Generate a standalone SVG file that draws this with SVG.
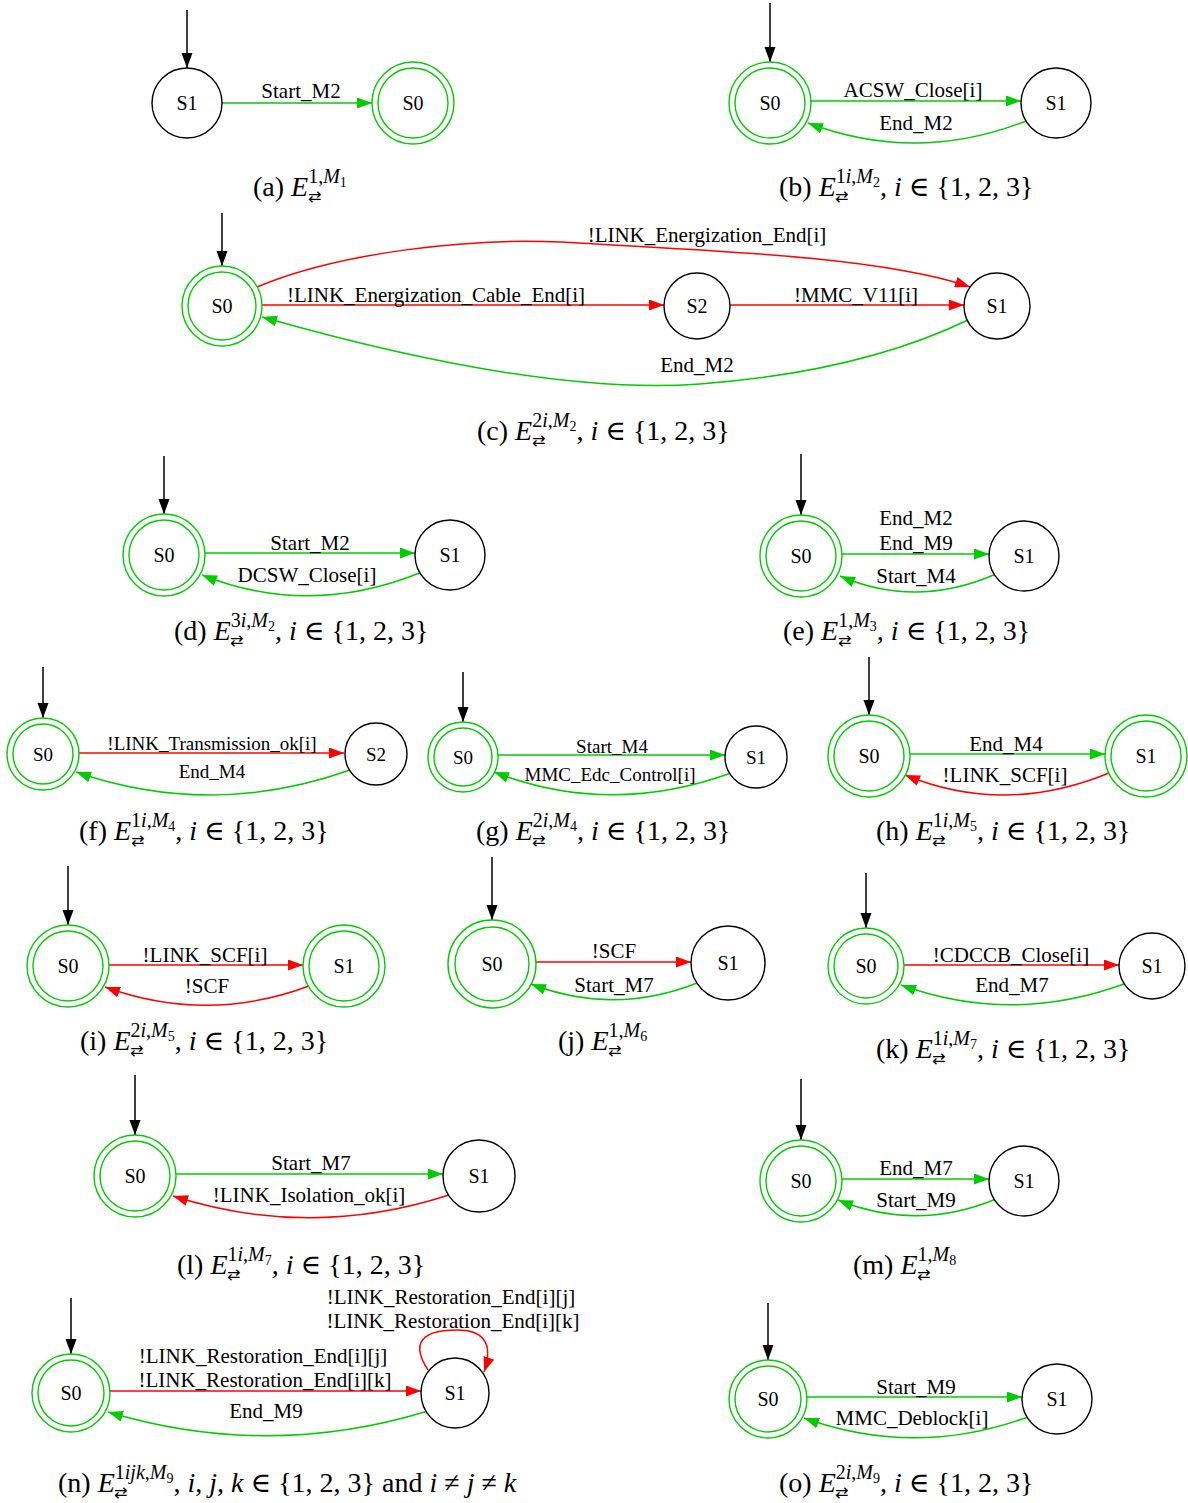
<svg xmlns="http://www.w3.org/2000/svg" width="1188" height="1503" viewBox="0 0 1188 1503">
<style>
text{font-family:"Liberation Serif","DejaVu Serif",serif;fill:#000}
.n{font-size:20px;text-anchor:middle}
.l{font-size:21px;text-anchor:middle}
.s{font-size:19px}
.cap{font-size:28px}
.sup{font-size:20px}
.sub{font-size:14px}
.it{font-style:italic}
.arr{font-family:"DejaVu Sans",sans-serif;font-size:16px}
.bk{fill:#fff;stroke:#000;stroke-width:1.4}
.gn{fill:#fff;stroke:#00cc00;stroke-width:1.4}
.e{fill:none;stroke-width:1.5}
.eg{stroke:#00cc00}
.er{stroke:#ff0000}
.ek{stroke:#000}
</style>
<defs>
<marker id="ak" markerUnits="userSpaceOnUse" markerWidth="16" markerHeight="12" refX="15" refY="5.5" orient="auto"><path d="M0,0 L15,5.5 L0,11 z" fill="#000"/></marker>
<marker id="ag" markerUnits="userSpaceOnUse" markerWidth="16" markerHeight="12" refX="15" refY="5.5" orient="auto"><path d="M0,0 L15,5.5 L0,11 z" fill="#00cc00"/></marker>
<marker id="ar" markerUnits="userSpaceOnUse" markerWidth="16" markerHeight="12" refX="15" refY="5.5" orient="auto"><path d="M0,0 L15,5.5 L0,11 z" fill="#ff0000"/></marker>
</defs>

<g id="connectors">
<path class="e ek" d="M187,10 L187,68" marker-end="url(#ak)"/>
<path class="e eg" d="M222,103 L372,103" marker-end="url(#ag)"/>
<path class="e ek" d="M770,3 L770,62" marker-end="url(#ak)"/>
<path class="e eg" d="M811,101 L1021,101" marker-end="url(#ag)"/>
<path class="e eg" d="M1026,121 Q917,164 808,123" marker-end="url(#ag)"/>
<path class="e ek" d="M222,213 L222,266" marker-end="url(#ak)"/>
<path class="e er" d="M262,305 L664,305" marker-end="url(#ar)"/>
<path class="e er" d="M730,305 L964,305" marker-end="url(#ar)"/>
<path class="e er" d="M257,287 C340,252 470,238 560,242 C700,250 880,256 970,287" marker-end="url(#ar)"/>
<path class="e eg" d="M968,320 Q860,372 700,384 Q540,396 262,317" marker-end="url(#ag)"/>
<path class="e ek" d="M164,456 L164,514" marker-end="url(#ak)"/>
<path class="e eg" d="M205,553 L415,553" marker-end="url(#ag)"/>
<path class="e eg" d="M422,572 Q310,618 202,575" marker-end="url(#ag)"/>
<path class="e ek" d="M801,454 L801,515" marker-end="url(#ak)"/>
<path class="e eg" d="M842,554 L989,554" marker-end="url(#ag)"/>
<path class="e eg" d="M996,574 Q916,609 840,576" marker-end="url(#ag)"/>
<path class="e ek" d="M43,667 L43,718" marker-end="url(#ak)"/>
<path class="e er" d="M79,753 L344,753" marker-end="url(#ar)"/>
<path class="e eg" d="M350,770 Q212,819 76,772" marker-end="url(#ag)"/>
<path class="e ek" d="M463,672 L463,722" marker-end="url(#ak)"/>
<path class="e eg" d="M498,755 L725,755" marker-end="url(#ag)"/>
<path class="e eg" d="M731,773 Q610,817 494,772" marker-end="url(#ag)"/>
<path class="e ek" d="M869,657 L869,715" marker-end="url(#ak)"/>
<path class="e eg" d="M910,754 L1105,754" marker-end="url(#ag)"/>
<path class="e er" d="M1109,773 Q1005,816 905,775" marker-end="url(#ar)"/>
<path class="e ek" d="M68,866 L68,925" marker-end="url(#ak)"/>
<path class="e er" d="M109,965 L303,965" marker-end="url(#ar)"/>
<path class="e er" d="M309,986 Q207,1024 105,987" marker-end="url(#ar)"/>
<path class="e ek" d="M492,857 L492,920" marker-end="url(#ak)"/>
<path class="e er" d="M536,962 L691,962" marker-end="url(#ar)"/>
<path class="e eg" d="M697,983 Q614,1016 531,984" marker-end="url(#ag)"/>
<path class="e ek" d="M866,873 L866,928" marker-end="url(#ak)"/>
<path class="e er" d="M904,965 L1119,965" marker-end="url(#ar)"/>
<path class="e eg" d="M1124,984 Q1012,1025 901,985" marker-end="url(#ag)"/>
<path class="e ek" d="M135,1075 L135,1135" marker-end="url(#ak)"/>
<path class="e eg" d="M176,1174 L443,1174" marker-end="url(#ag)"/>
<path class="e er" d="M449,1195 Q310,1240 173,1196" marker-end="url(#ar)"/>
<path class="e ek" d="M801,1079 L801,1140" marker-end="url(#ak)"/>
<path class="e eg" d="M842,1179 L989,1179" marker-end="url(#ag)"/>
<path class="e eg" d="M996,1199 Q917,1232 838,1200" marker-end="url(#ag)"/>
<path class="e ek" d="M71,1298 L71,1354" marker-end="url(#ak)"/>
<path class="e er" d="M110,1391 L421,1391" marker-end="url(#ar)"/>
<path class="e er" d="M428,1370 C405,1335 435,1330 457,1330 C480,1330 495,1340 484,1372" marker-end="url(#ar)"/>
<path class="e eg" d="M428,1411 Q268,1460 108,1412" marker-end="url(#ag)"/>
<path class="e ek" d="M768,1303 L768,1360" marker-end="url(#ak)"/>
<path class="e eg" d="M807,1397 L1022,1397" marker-end="url(#ag)"/>
<path class="e eg" d="M1028,1417 Q915,1458 804,1418" marker-end="url(#ag)"/>
</g>

<g id="edge-labels">
<text class="l" x="301" y="98">Start_M2</text>
<text class="l" x="913" y="97">ACSW_Close[i]</text>
<text class="l" x="916" y="130">End_M2</text>
<text class="l" x="436" y="302">!LINK_Energization_Cable_End[i]</text>
<text class="l" x="856" y="302">!MMC_V11[i]</text>
<text class="l" x="707" y="242">!LINK_Energization_End[i]</text>
<text class="l" x="697" y="372">End_M2</text>
<text class="l" x="310" y="550">Start_M2</text>
<text class="l" x="307" y="582">DCSW_Close[i]</text>
<text class="l" x="916" y="525">End_M2</text>
<text class="l" x="916" y="550">End_M9</text>
<text class="l" x="916" y="583">Start_M4</text>
<text class="l s" x="212" y="750">!LINK_Transmission_ok[i]</text>
<text class="l s" x="212" y="778">End_M4</text>
<text class="l s" x="612" y="753">Start_M4</text>
<text class="l s" x="610" y="781">MMC_Edc_Control[i]</text>
<text class="l" x="1006" y="751">End_M4</text>
<text class="l" x="1005" y="782">!LINK_SCF[i]</text>
<text class="l" x="205" y="962">!LINK_SCF[i]</text>
<text class="l" x="207" y="993">!SCF</text>
<text class="l" x="614" y="958">!SCF</text>
<text class="l" x="614" y="992">Start_M7</text>
<text class="l" x="1011" y="962">!CDCCB_Close[i]</text>
<text class="l" x="1012" y="992">End_M7</text>
<text class="l" x="311" y="1170">Start_M7</text>
<text class="l" x="309" y="1202">!LINK_Isolation_ok[i]</text>
<text class="l" x="916" y="1175">End_M7</text>
<text class="l" x="916" y="1207">Start_M9</text>
<text class="l" x="263" y="1363">!LINK_Restoration_End[i][j]</text>
<text class="l" x="265" y="1387">!LINK_Restoration_End[i][k]</text>
<text class="l" x="451" y="1304">!LINK_Restoration_End[i][j]</text>
<text class="l" x="453" y="1328">!LINK_Restoration_End[i][k]</text>
<text class="l" x="266" y="1418">End_M9</text>
<text class="l" x="916" y="1394">Start_M9</text>
<text class="l" x="912" y="1425">MMC_Deblock[i]</text>
</g>

<g id="a-S1"><circle class="bk" cx="187" cy="103" r="35"/><text class="n" x="187" y="110">S1</text></g>
<g id="a-S0"><circle class="gn" cx="413" cy="103" r="41"/><circle class="gn" cx="413" cy="103" r="35"/><text class="n" x="413" y="110">S0</text></g>
<g id="b-S0"><circle class="gn" cx="770" cy="103" r="41"/><circle class="gn" cx="770" cy="103" r="35"/><text class="n" x="770" y="110">S0</text></g>
<g id="b-S1"><circle class="bk" cx="1056" cy="103" r="35"/><text class="n" x="1056" y="110">S1</text></g>
<g id="c-S0"><circle class="gn" cx="222" cy="306" r="40"/><circle class="gn" cx="222" cy="306" r="34"/><text class="n" x="222" y="313">S0</text></g>
<g id="c-S2"><circle class="bk" cx="697" cy="306" r="33"/><text class="n" x="697" y="313">S2</text></g>
<g id="c-S1"><circle class="bk" cx="997" cy="306" r="33"/><text class="n" x="997" y="313">S1</text></g>
<g id="d-S0"><circle class="gn" cx="164" cy="555" r="41"/><circle class="gn" cx="164" cy="555" r="35"/><text class="n" x="164" y="562">S0</text></g>
<g id="d-S1"><circle class="bk" cx="450" cy="555" r="35"/><text class="n" x="450" y="562">S1</text></g>
<g id="e-S0"><circle class="gn" cx="801" cy="556" r="41"/><circle class="gn" cx="801" cy="556" r="35"/><text class="n" x="801" y="563">S0</text></g>
<g id="e-S1"><circle class="bk" cx="1024" cy="556" r="35"/><text class="n" x="1024" y="563">S1</text></g>
<g id="f-S0"><circle class="gn" cx="43" cy="754" r="36"/><circle class="gn" cx="43" cy="754" r="30"/><text class="n s" x="43" y="761">S0</text></g>
<g id="f-S2"><circle class="bk" cx="376" cy="754" r="31"/><text class="n s" x="376" y="761">S2</text></g>
<g id="g-S0"><circle class="gn" cx="463" cy="757" r="35"/><circle class="gn" cx="463" cy="757" r="29"/><text class="n s" x="463" y="764">S0</text></g>
<g id="g-S1"><circle class="bk" cx="756" cy="757" r="31"/><text class="n s" x="756" y="764">S1</text></g>
<g id="h-S0"><circle class="gn" cx="869" cy="756" r="41"/><circle class="gn" cx="869" cy="756" r="35"/><text class="n" x="869" y="763">S0</text></g>
<g id="h-S1"><circle class="gn" cx="1146" cy="756" r="41"/><circle class="gn" cx="1146" cy="756" r="35"/><text class="n" x="1146" y="763">S1</text></g>
<g id="i-S0"><circle class="gn" cx="68" cy="966" r="41"/><circle class="gn" cx="68" cy="966" r="35"/><text class="n" x="68" y="973">S0</text></g>
<g id="i-S1"><circle class="gn" cx="344" cy="966" r="41"/><circle class="gn" cx="344" cy="966" r="35"/><text class="n" x="344" y="973">S1</text></g>
<g id="j-S0"><circle class="gn" cx="492" cy="964" r="44"/><circle class="gn" cx="492" cy="964" r="37"/><text class="n" x="492" y="971">S0</text></g>
<g id="j-S1"><circle class="bk" cx="728" cy="963" r="37"/><text class="n" x="728" y="970">S1</text></g>
<g id="k-S0"><circle class="gn" cx="866" cy="966" r="38"/><circle class="gn" cx="866" cy="966" r="32"/><text class="n" x="866" y="973">S0</text></g>
<g id="k-S1"><circle class="bk" cx="1152" cy="966" r="33"/><text class="n" x="1152" y="973">S1</text></g>
<g id="l-S0"><circle class="gn" cx="135" cy="1176" r="41"/><circle class="gn" cx="135" cy="1176" r="35"/><text class="n" x="135" y="1183">S0</text></g>
<g id="l-S1"><circle class="bk" cx="479" cy="1176" r="36"/><text class="n" x="479" y="1183">S1</text></g>
<g id="m-S0"><circle class="gn" cx="801" cy="1181" r="41"/><circle class="gn" cx="801" cy="1181" r="35"/><text class="n" x="801" y="1188">S0</text></g>
<g id="m-S1"><circle class="bk" cx="1024" cy="1181" r="35"/><text class="n" x="1024" y="1188">S1</text></g>
<g id="n-S0"><circle class="gn" cx="71" cy="1393" r="39"/><circle class="gn" cx="71" cy="1393" r="33"/><text class="n" x="71" y="1400">S0</text></g>
<g id="n-S1"><ellipse class="bk" cx="455" cy="1393" rx="34" ry="35"/><text class="n" x="455" y="1400">S1</text></g>
<g id="o-S0"><circle class="gn" cx="768" cy="1399" r="39"/><circle class="gn" cx="768" cy="1399" r="33"/><text class="n" x="768" y="1406">S0</text></g>
<g id="o-S1"><circle class="bk" cx="1057" cy="1399" r="35"/><text class="n" x="1057" y="1406">S1</text></g>

<g id="captions">
<text class="cap" x="253" y="196">(a) <tspan class="it">E</tspan><tspan class="sup" dy="-13">1,<tspan class="it">M</tspan></tspan><tspan class="sub" dy="4">1</tspan></text>
<text class="arr" x="308" y="202">⇄</text>

<text class="cap" x="779" y="196">(b) <tspan class="it">E</tspan><tspan class="sup" dy="-13">1<tspan class="it">i</tspan>,<tspan class="it">M</tspan></tspan><tspan class="sub" dy="4">2</tspan><tspan dy="9">, <tspan class="it">i</tspan> ∈ {1, 2, 3}</tspan></text>
<text class="arr" x="835" y="202">⇄</text>

<text class="cap" x="477" y="440">(c) <tspan class="it">E</tspan><tspan class="sup" dy="-13">2<tspan class="it">i</tspan>,<tspan class="it">M</tspan></tspan><tspan class="sub" dy="4">2</tspan><tspan dy="9">, <tspan class="it">i</tspan> ∈ {1, 2, 3}</tspan></text>
<text class="arr" x="532" y="446">⇄</text>

<text class="cap" x="174" y="640">(d) <tspan class="it">E</tspan><tspan class="sup" dy="-13">3<tspan class="it">i</tspan>,<tspan class="it">M</tspan></tspan><tspan class="sub" dy="4">2</tspan><tspan dy="9">, <tspan class="it">i</tspan> ∈ {1, 2, 3}</tspan></text>
<text class="arr" x="230" y="646">⇄</text>

<text class="cap" x="783" y="640">(e) <tspan class="it">E</tspan><tspan class="sup" dy="-13">1,<tspan class="it">M</tspan></tspan><tspan class="sub" dy="4">3</tspan><tspan dy="9">, <tspan class="it">i</tspan> ∈ {1, 2, 3}</tspan></text>
<text class="arr" x="838" y="646">⇄</text>

<text class="cap" x="79" y="840">(f) <tspan class="it">E</tspan><tspan class="sup" dy="-13">1<tspan class="it">i</tspan>,<tspan class="it">M</tspan></tspan><tspan class="sub" dy="4">4</tspan><tspan dy="9">, <tspan class="it">i</tspan> ∈ {1, 2, 3}</tspan></text>
<text class="arr" x="131" y="846">⇄</text>

<text class="cap" x="476" y="840">(g) <tspan class="it">E</tspan><tspan class="sup" dy="-13">2<tspan class="it">i</tspan>,<tspan class="it">M</tspan></tspan><tspan class="sub" dy="4">4</tspan><tspan dy="9">, <tspan class="it">i</tspan> ∈ {1, 2, 3}</tspan></text>
<text class="arr" x="532" y="846">⇄</text>

<text class="cap" x="876" y="840">(h) <tspan class="it">E</tspan><tspan class="sup" dy="-13">1<tspan class="it">i</tspan>,<tspan class="it">M</tspan></tspan><tspan class="sub" dy="4">5</tspan><tspan dy="9">, <tspan class="it">i</tspan> ∈ {1, 2, 3}</tspan></text>
<text class="arr" x="932" y="846">⇄</text>

<text class="cap" x="80" y="1050">(i) <tspan class="it">E</tspan><tspan class="sup" dy="-13">2<tspan class="it">i</tspan>,<tspan class="it">M</tspan></tspan><tspan class="sub" dy="4">5</tspan><tspan dy="9">, <tspan class="it">i</tspan> ∈ {1, 2, 3}</tspan></text>
<text class="arr" x="130" y="1056">⇄</text>

<text class="cap" x="558" y="1050">(j) <tspan class="it">E</tspan><tspan class="sup" dy="-13">1,<tspan class="it">M</tspan></tspan><tspan class="sub" dy="4">6</tspan></text>
<text class="arr" x="608" y="1056">⇄</text>

<text class="cap" x="876" y="1058">(k) <tspan class="it">E</tspan><tspan class="sup" dy="-13">1<tspan class="it">i</tspan>,<tspan class="it">M</tspan></tspan><tspan class="sub" dy="4">7</tspan><tspan dy="9">, <tspan class="it">i</tspan> ∈ {1, 2, 3}</tspan></text>
<text class="arr" x="932" y="1064">⇄</text>

<text class="cap" x="177" y="1274">(l) <tspan class="it">E</tspan><tspan class="sup" dy="-13">1<tspan class="it">i</tspan>,<tspan class="it">M</tspan></tspan><tspan class="sub" dy="4">7</tspan><tspan dy="9">, <tspan class="it">i</tspan> ∈ {1, 2, 3}</tspan></text>
<text class="arr" x="227" y="1280">⇄</text>

<text class="cap" x="853" y="1274">(m) <tspan class="it">E</tspan><tspan class="sup" dy="-13">1,<tspan class="it">M</tspan></tspan><tspan class="sub" dy="4">8</tspan></text>
<text class="arr" x="917" y="1280">⇄</text>

<text class="cap" x="58" y="1492">(n) <tspan class="it">E</tspan><tspan class="sup" dy="-13">1<tspan class="it">ijk</tspan>,<tspan class="it">M</tspan></tspan><tspan class="sub" dy="4">9</tspan><tspan dy="9">, <tspan class="it">i</tspan>, <tspan class="it">j</tspan>, <tspan class="it">k</tspan> ∈ {1, 2, 3} and <tspan class="it">i</tspan> ≠ <tspan class="it">j</tspan> ≠ <tspan class="it">k</tspan></tspan></text>
<text class="arr" x="114" y="1498">⇄</text>

<text class="cap" x="779" y="1492">(o) <tspan class="it">E</tspan><tspan class="sup" dy="-13">2<tspan class="it">i</tspan>,<tspan class="it">M</tspan></tspan><tspan class="sub" dy="4">9</tspan><tspan dy="9">, <tspan class="it">i</tspan> ∈ {1, 2, 3}</tspan></text>
<text class="arr" x="835" y="1498">⇄</text>
</g>
</svg>
